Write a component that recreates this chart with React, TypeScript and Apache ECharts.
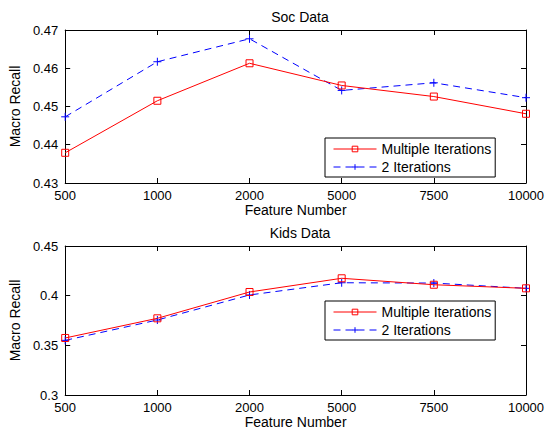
import React, { useEffect, useRef } from "react";
import * as echarts from "echarts";

const categories = ["500", "1000", "2000", "5000", "7500", "10000"];
const socMultiple = [0.4379, 0.4515, 0.4613, 0.4555, 0.4526, 0.4481];
const socTwo = [0.4473, 0.4617, 0.4677, 0.4542, 0.4562, 0.4523];
const kidsMultiple = [0.3574, 0.3772, 0.4037, 0.4175, 0.411, 0.4074];
const kidsTwo = [0.355, 0.3755, 0.4007, 0.413, 0.4127, 0.4074];
const seriesNames = ["Multiple Iterations", "2 Iterations"];

const FONT = "Liberation Sans, Arial, Helvetica, sans-serif";
const PLUS = "path://M0,-5 L0,5 M-5,0 L5,0";

export default function App() {
  const ref = useRef<HTMLDivElement>(null);
  useEffect(() => {
    if (!ref.current) return;
    const chart = echarts.init(ref.current, undefined, { renderer: "svg" });
    const axisLine = { show: true, lineStyle: { color: "#000", width: 1 } };
    const tick = { show: true, inside: true, length: 5, lineStyle: { color: "#000" } };
    const label = { color: "#000", fontSize: 13, fontFamily: FONT };
    const nameStyle = { color: "#000", fontSize: 14, fontFamily: FONT, fontWeight: "normal" };

    const xAxes: any[] = [];
    const yAxes: any[] = [];
    [0, 1].forEach((g) => {
      xAxes.push({
        type: "category",
        gridIndex: g,
        data: categories,
        boundaryGap: false,
        position: "bottom",
        axisLine,
        axisTick: tick,
        axisLabel: { ...label, margin: 6 },
        splitLine: { show: false },
        name: "Feature Number",
        nameLocation: "middle",
        nameGap: 20,
        nameTextStyle: nameStyle,
      });
      xAxes.push({
        type: "category",
        gridIndex: g,
        data: categories,
        boundaryGap: false,
        position: "top",
        axisLine,
        axisTick: tick,
        axisLabel: { show: false },
        splitLine: { show: false },
      });
    });
    const yCfg = [
      { min: 0.43, max: 0.47, interval: 0.01, fmt: (v: number) => v.toFixed(2) },
      { min: 0.3, max: 0.45, interval: 0.05, fmt: (v: number) => String(parseFloat(v.toFixed(2))) },
    ];
    yCfg.forEach((c, g) => {
      yAxes.push({
        type: "value",
        gridIndex: g,
        min: c.min,
        max: c.max,
        interval: c.interval,
        position: "left",
        axisLine,
        axisTick: tick,
        axisLabel: { ...label, margin: 7, formatter: c.fmt },
        splitLine: { show: false },
        name: "Macro Recall",
        nameLocation: "middle",
        nameGap: 37,
        nameTextStyle: nameStyle,
      });
      yAxes.push({
        type: "value",
        gridIndex: g,
        min: c.min,
        max: c.max,
        interval: c.interval,
        position: "right",
        axisLine,
        axisTick: tick,
        axisLabel: { show: false },
        splitLine: { show: false },
      });
    });

    const mkSeries = (g: number, multi: number[], two: number[]) => [
      {
        name: seriesNames[0],
        type: "line",
        xAxisIndex: g * 2,
        yAxisIndex: g * 2,
        data: multi,
        symbol: "rect",
        symbolSize: 7,
        showAllSymbol: true,
        lineStyle: { color: "#ff0000", width: 1, type: "solid" },
        itemStyle: { color: "rgba(255,255,255,0)", borderColor: "#ff0000", borderWidth: 1 },
        z: 3,
      },
      {
        name: seriesNames[1],
        type: "line",
        xAxisIndex: g * 2,
        yAxisIndex: g * 2,
        data: two,
        symbol: PLUS,
        symbolSize: 8,
        showAllSymbol: true,
        lineStyle: { color: "#0000ff", width: 1, type: [7, 5] },
        itemStyle: { color: "#0000ff", borderColor: "#0000ff", borderWidth: 1 },
        z: 2,
      },
    ];

    const legendBase = {
      orient: "vertical",
      left: 325,
      backgroundColor: "#fff",
      borderColor: "#000",
      borderWidth: 1,
      borderRadius: 0,
      padding: [3, 4, 2, 8],
      itemGap: 2,
      itemWidth: 43,
      itemHeight: 7,
      lineStyle: { width: 1 },
      itemStyle: { borderWidth: 1 },
      textStyle: { color: "#000", fontSize: 14, fontFamily: FONT, lineHeight: 16 },
      data: seriesNames,
    };

    chart.setOption({
      animation: false,
      backgroundColor: "#fff",
      title: [
        { text: "Soc Data", left: 295, top: 5, textAlign: "center", textStyle: nameStyle },
        { text: "Kids Data", left: 295, top: 221, textAlign: "center", textStyle: nameStyle },
      ],
      grid: [
        { left: 64, top: 30, width: 462, height: 153 },
        { left: 64, top: 246, width: 462, height: 149 },
      ],
      legend: [
        { ...legendBase, top: 138 },
        { ...legendBase, top: 301 },
      ],
      xAxis: xAxes,
      yAxis: yAxes,
      series: [...mkSeries(0, socMultiple, socTwo), ...mkSeries(1, kidsMultiple, kidsTwo)],
    });
    return () => chart.dispose();
  }, []);
  return (
    <div
      ref={ref}
      style={{ position: "fixed", left: 0, top: 0, width: 557, height: 434, background: "#fff" }}
    />
  );
}
